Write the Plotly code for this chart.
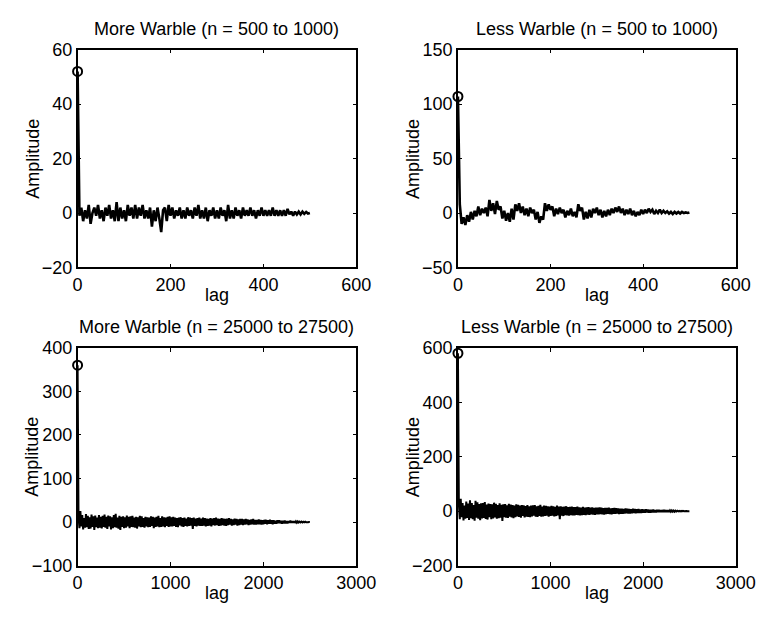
import plotly.graph_objects as go

# ---------------- data ----------------
titles = ["More Warble (n = 500 to 1000)", "Less Warble (n = 500 to 1000)",
          "More Warble (n = 25000 to 27500)", "Less Warble (n = 25000 to 27500)"]

lag_step_top = 4
lag_step_bottom = 10

more_warble_early = [52,
    -1, 2, -3, 1, -2, 3, -4, 0, 2, -1,
    3, -2, 1, -3, 2, -1, 3, -2, 1, -3,
    4, -3, 2, -2, 1, -3, 3, -1, 2, -2,
    3, -2, 2, -1, 3, -2, 1, -2, 2, -5,
    1, -3, 2, -2, -7, 1, 2, -3, 3, -1,
    2, -2, 1, -1, 2, -2, 1, -2, 2, -1,
    1, -2, 2, -1, 3, -2, 1, -2, 2, -3,
    1, -1, 2, -2, 1, -2, 2, -1, 1, -3,
    3, -2, 1, -2, 2, -1, 1, -2, 2, -1,
    1, -1, 2, -1, 1, -2, 1, -1, 2, -1,
    1, -1, 1, -1, 2, -1, 1, -1, 1, -1,
    1, -1, 1.5, -0.5, 0.5, -1, 0.5, -0.5, 0.5, -0.5,
    0.5, -0.3, 0.4, -0.2, 0]

less_warble_early = [107,
    8, -10, -4, -11, -2, -8, 1, -6, 2, -3,
    6, -2, 4, 0, 5, -3, 12, 2, 9, -1,
    11, 3, 6, -5, 2, -7, 0, -8, 4, -6,
    8, 2, 9, 0, 6, -2, 4, -3, 5, 0,
    3, -6, 1, -9, -3, -6, 9, 2, 8, 3,
    6, -3, 4, -1, 5, 0, 3, -4, 2, -2,
    4, -3, 1, -4, 8, 2, 5, -6, 1, -5,
    3, -4, 4, 0, 5, -2, 3, -4, 2, -3,
    3, -2, 4, 0, 5, 1, 6, 0, 4, -2,
    3, -1, 4, -2, 2, -3, 1, -2, 3, -1,
    3, 0, 4, 1, 3, -1, 2, 0, 3, 0,
    2, 0, 1.5, -0.5, 1, -1, 1, -0.5, 1, -0.5,
    1, 0, 0.5, 0, 0.5]

more_warble_late = [360,
    12, -14, 25, -10, 16, -17, 9, -13, 18, -12, 14, -16, 11, -15, 17, -11, 13, -18, 15, -12, 10, -14, 16, -13, 12,
    -15, 14, -11, 17, -13, 12, -16, 15, -10, 13, -17, 11, -14, 16, -12, 19, -13, 10, -15, 14, -18, 12, -11, 13, -14,
    11, -13, 15, -10, 12, -14, 13, -11, 14, -12, 10, -13, 12, -15, 11, -10, 14, -12, 13, -11, 9, -13, 12, -10, 11,
    -12, 10, -11, 13, -9, 12, -14, 10, -11, 12, -10, 14, -12, 9, -11, 13, -10, 11, -12, 10, -9, 12, -11, 13, -10,
    11, -10, 12, -9, 10, -11, 9, -12, 10, -8, 11, -10, 9, -11, 10, -9, 8, -10, 11, -9, 10, -8, 9, -16, 10,
    -9, 8, -10, 9, -8, 10, -9, 8, -9, 10, -8, 9, -10, 8, -9, 7, -8, 9, -10, 8, -7, 9, -8, 10, -7,
    8, -9, 7, -8, 9, -7, 8, -8, 7, -9, 8, -7, 9, -6, 7, -8, 6, -7, 8, -6, 7, -8, 6, -7, 7,
    -6, 7, -7, 6, -6, 7, -5, 6, -7, 5, -6, 6, -5, 7, -6, 5, -6, 5, -5, 6, -5, 5, -6, 4, -5,
    5, -4, 5, -5, 4, -4, 5, -4, 4, -5, 4, -4, 3, -4, 4, -3, 4, -3, 3, -4, 3, -3, 3, -3, 2,
    -3, 2, -2, 3, -2, 2, -2, 2, -2, 1.5, -1.5, 1.5, -1, 1, -1, 1, -1, 0.8, -0.8, 0.6, -0.5, 0.4, -0.3, 0.2, 0]

less_warble_late = [580,
    25, -30, 45, -22, 30, -34, 20, -28, 35, -25, 28, -32, 40, -26, 30, -30, 22, -35, 38, -24, 32, -28, 26, -33, 29,
    -27, 30, -25, 33, -29, 24, -31, 28, -22, 26, -30, 25, -27, 31, -23, 27, -28, 22, -26, 29, -24, 23, -36, 25, -22,
    26, -24, 21, -25, 27, -20, 24, -23, 22, -26, 20, -22, 25, -19, 23, -21, 20, -24, 22, -18, 21, -23, 19, -20, 22,
    -21, 18, -22, 20, -19, 21, -17, 22, -20, 18, -21, 19, -18, 23, -20, 17, -19, 20, -18, 19, -17, 18, -20, 17, -18,
    19, -17, 18, -19, 16, -18, 20, -16, 17, -30, 18, -17, 16, -18, 17, -15, 18, -16, 15, -17, 16, -15, 17, -16, 15,
    -16, 15, -14, 17, -15, 14, -16, 13, -15, 16, -14, 13, -15, 14, -13, 15, -14, 13, -12, 14, -13, 12, -14, 13, -12,
    13, -12, 14, -11, 13, -12, 11, -13, 12, -11, 12, -10, 13, -11, 10, -12, 11, -10, 12, -10, 11, -9, 10, -11, 9,
    -10, 9, -10, 8, -9, 10, -8, 9, -9, 8, -9, 7, -8, 9, -7, 8, -8, 7, -7, 8, -7, 6, -7, 7, -6,
    6, -6, 7, -5, 6, -6, 5, -6, 5, -5, 6, -5, 4, -5, 5, -4, 5, -4, 4, -4, 4, -3, 4, -3, 3,
    -3, 3, -3, 3, -2, 2.5, -2, 2, -2, 1.5, -1.5, 1.5, -1, 1, -1, 1, -0.8, 0.8, -0.6, 0.6, -0.5, 0.4, -0.3, 0.2, 0]

x_ranges = [[0, 600], [0, 600], [0, 3000], [0, 3000]]
x_ticks = [[0, 200, 400, 600], [0, 200, 400, 600],
           [0, 1000, 2000, 3000], [0, 1000, 2000, 3000]]
y_ranges = [[-20, 60], [-50, 150], [-100, 400], [-200, 600]]
y_ticks = [[-20, 0, 20, 40, 60], [-50, 0, 50, 100, 150],
           [-100, 0, 100, 200, 300, 400], [-200, 0, 200, 400, 600]]

series = [more_warble_early, less_warble_early, more_warble_late, less_warble_late]
steps = [lag_step_top, lag_step_top, lag_step_bottom, lag_step_bottom]

# ---------------- layout geometry ----------------
W, H = 777, 623
px_x = [(75, 363), (468, 755), (75, 363), (468, 755)]
px_y = [(41, 266), (41, 266), (349, 574), (349, 574)]
line_w = [2.6, 2.6, 2.0, 2.0]

FONT = "Liberation Sans, Arial, Helvetica, sans-serif"
FS = 18

fig = go.Figure()
layout = dict(width=W, height=H, margin=dict(l=0, r=0, t=0, b=0),
              paper_bgcolor="white", plot_bgcolor="white", showlegend=False,
              font=dict(family=FONT, size=FS, color="black"))
annotations = []

for i in range(4):
    ax = "" if i == 0 else str(i + 1)
    xa, ya = "x" + ax, "y" + ax
    vals = series[i]
    lags = [k * steps[i] for k in range(len(vals))]
    fig.add_trace(go.Scatter(x=lags, y=vals, mode="lines", xaxis=xa, yaxis=ya,
                             line=dict(color="black", width=line_w[i]), hoverinfo="skip"))
    fig.add_trace(go.Scatter(x=[lags[0]], y=[vals[0]], mode="markers", xaxis=xa, yaxis=ya,
                             cliponaxis=False,
                             marker=dict(symbol="circle-open", size=9, color="black",
                                         line=dict(width=2, color="black"))))
    x0, x1 = px_x[i]
    y0, y1 = px_y[i]
    common = dict(showline=True, linecolor="black", linewidth=1.5, mirror="ticks",
                  ticks="inside", ticklen=4, tickcolor="black", tickwidth=1.3,
                  showgrid=False, zeroline=False,
                  tickfont=dict(family=FONT, size=FS, color="black"))
    layout["xaxis" + ax] = dict(common, domain=[x0 / W, x1 / W], range=x_ranges[i],
                                tickvals=x_ticks[i], anchor=ya)
    layout["yaxis" + ax] = dict(common, domain=[1 - y1 / H, 1 - y0 / H], range=y_ranges[i],
                                tickvals=y_ticks[i], anchor=xa,
                                ticktext=[str(v).replace("-", "\u2212") for v in y_ticks[i]])
    cx = (x0 + x1) / 2 / W
    annotations.append(dict(text=titles[i], x=cx, y=1 - (y0 - 21) / H, xref="paper", yref="paper",
                            showarrow=False, xanchor="center", yanchor="middle",
                            font=dict(family=FONT, size=FS, color="black")))
    annotations.append(dict(text="lag", x=cx, y=1 - (y1 + 28) / H, xref="paper", yref="paper",
                            showarrow=False, xanchor="center", yanchor="middle",
                            font=dict(family=FONT, size=FS, color="black")))
    annotations.append(dict(text="Amplitude", x=(x0 - 47) / W, y=1 - (y0 + y1) / 2 / H,
                            xref="paper", yref="paper", textangle=-90,
                            showarrow=False, xanchor="center", yanchor="middle",
                            font=dict(family=FONT, size=FS, color="black")))

layout["annotations"] = annotations
fig.update_layout(**layout)
fig.write_html("out.html")
